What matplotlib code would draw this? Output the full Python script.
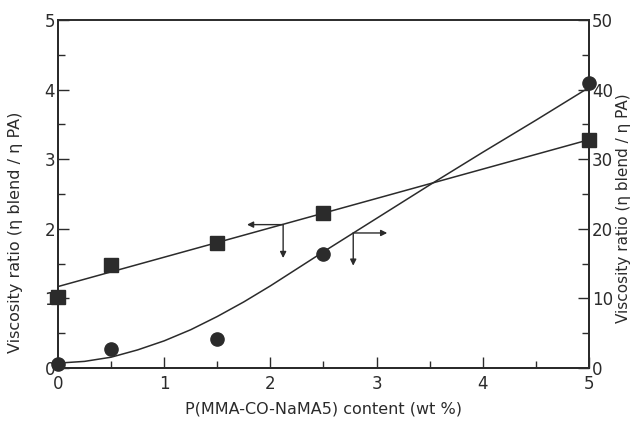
import matplotlib
matplotlib.use("Agg")
import matplotlib.pyplot as plt
from matplotlib.ticker import MultipleLocator

plt.rcParams["font.family"] = ["Liberation Sans Narrow", "DejaVu Sans"]

# measured points
content = [0, 0.5, 1.5, 2.5, 5]
ratio_left = [1.02, 1.48, 1.80, 2.22, 3.28]    # squares, left axis
ratio_right = [0.6, 2.8, 4.1, 16.4, 40.9]      # circles, right axis

# fitted trend lines
fit_left_x = [0, 5]
fit_left_y = [1.17, 3.28]
fit_right_x = [0, 0.25, 0.5, 0.75, 1.0, 1.25, 1.5, 1.75, 2.0, 2.25, 2.5, 3.0, 3.5, 4.0, 4.5, 5.0]
fit_right_y = [0.7, 0.95, 1.55, 2.6, 3.9, 5.5, 7.4, 9.5, 11.8, 14.25, 16.7, 21.5, 26.3, 31.0, 35.6, 40.3]

ink = "#2b2b2b"
label = "Viscosity ratio (η blend / η PA)"

fig = plt.figure(figsize=(6.33, 4.21), dpi=100)
ax = fig.add_axes([0.0916, 0.1259, 0.8389, 0.8266])
ax2 = ax.twinx()

ax.plot(fit_left_x, fit_left_y, color=ink, lw=1.1)
ax.plot(content, ratio_left, "s", color=ink, ms=9.5, clip_on=False, zorder=5)
ax2.plot(fit_right_x, fit_right_y, color=ink, lw=1.1)
ax2.plot(content, ratio_right, "o", color=ink, ms=9.5, clip_on=False, zorder=5)

# arrows pointing each curve to its axis
arr = dict(arrowstyle="-|>", color=ink, lw=1.0, mutation_scale=9, shrinkA=0, shrinkB=0)
ax.annotate("", xy=(1.78, 2.06), xytext=(2.12, 2.06), arrowprops=arr)
ax.annotate("", xy=(2.12, 1.58), xytext=(2.12, 2.06), arrowprops=arr)
ax2.annotate("", xy=(3.1, 19.4), xytext=(2.78, 19.4), arrowprops=arr)
ax2.annotate("", xy=(2.78, 14.7), xytext=(2.78, 19.4), arrowprops=arr)

ax.set_xlim(0, 5)
ax.set_ylim(0, 5)
ax2.set_ylim(0, 50)

ax.xaxis.set_major_locator(MultipleLocator(1))
ax.xaxis.set_minor_locator(MultipleLocator(0.5))
ax.yaxis.set_major_locator(MultipleLocator(1))
ax.yaxis.set_minor_locator(MultipleLocator(0.5))
ax2.yaxis.set_major_locator(MultipleLocator(10))
ax2.yaxis.set_minor_locator(MultipleLocator(5))

for a in (ax, ax2):
    a.tick_params(which="major", direction="in", length=8, width=1.0, color=ink,
                  labelsize=12, labelcolor=ink, pad=2)
    a.tick_params(which="minor", direction="in", length=5, width=1.0, color=ink)
    for s in a.spines.values():
        s.set_linewidth(1.4)
        s.set_color(ink)
ax.tick_params(axis="x", pad=5)
ax2.spines["top"].set_visible(False)

ax.set_xlabel("P(MMA-CO-NaMA5) content (wt %)", fontsize=11.5, color=ink, labelpad=6)
ax.set_ylabel(label, fontsize=11.5, color=ink)
ax2.set_ylabel(label, fontsize=11, color=ink)
ax.yaxis.set_label_coords(-0.065, 0.39)
ax2.yaxis.set_label_coords(1.05, 0.46)

fig.savefig("out.png", dpi=100)
